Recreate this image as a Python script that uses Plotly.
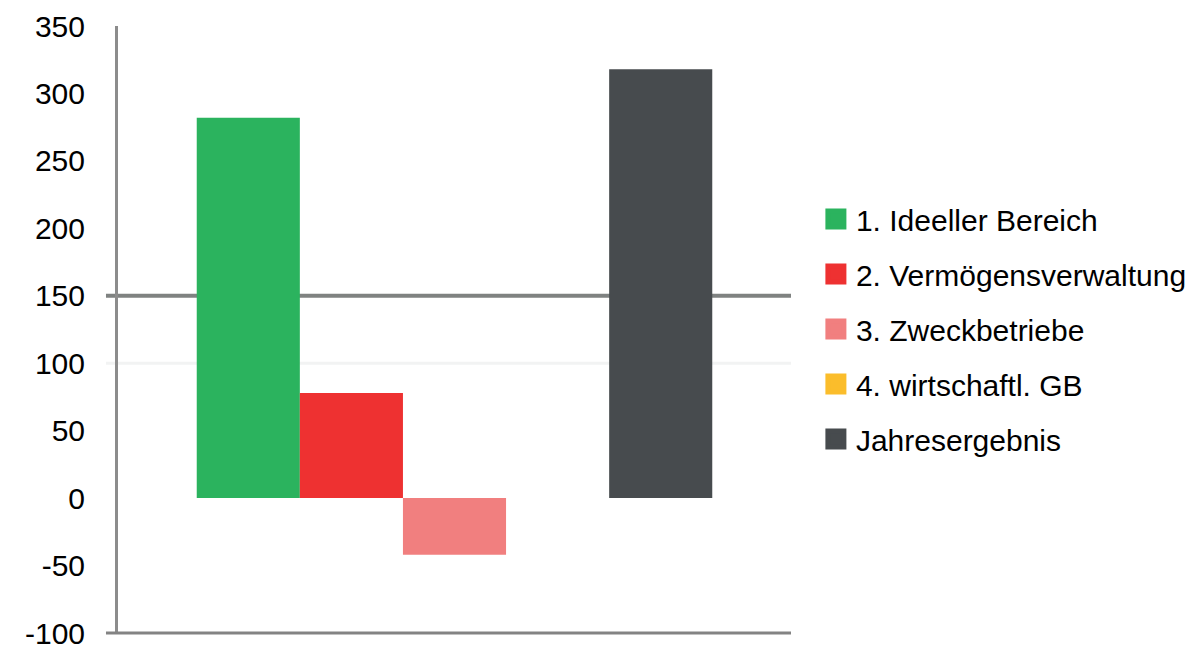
import plotly.graph_objects as go

series_names = ["1. Ideeller Bereich", "2. Vermögensverwaltung", "3. Zweckbetriebe",
                "4. wirtschaftl. GB", "Jahresergebnis"]
series_values = [282, 78, -42, 0, 318]
series_colors = ["#2bb35e", "#ee3131", "#f17f7f", "#fbbd2b", "#474b4e"]
category = [""]
tick_vals = [-100, -50, 0, 50, 100, 150, 200, 250, 300, 350]
tick_text = ["-100", "-50", "0", "50", "100", "150", "200", "250", "300", "350"]

FONT = "Liberation Sans, Arial, sans-serif"

fig = go.Figure()
for name, val, col in zip(series_names, series_values, series_colors):
    fig.add_trace(go.Bar(x=category, y=[val], name=name, marker=dict(color=col, line=dict(width=0)),
                         showlegend=False))
# legend swatches
for i, (name, col) in enumerate(zip(series_names, series_colors)):
    fig.add_trace(go.Scatter(x=[None], y=[None], mode="markers", name=name, legendgroup=f"g{i}",
                             marker=dict(symbol="square", size=16, color=col,
                                         line=dict(color=col, width=5))))

plot_w = 672
fig.update_layout(
    width=1198, height=648,
    margin=dict(l=118, r=407, t=26, b=15, autoexpand=False),
    paper_bgcolor="white", plot_bgcolor="white",
    barmode="group", bargap=0.234, bargroupgap=0,
    font=dict(family=FONT, size=30, color="#000000"),
    showlegend=True,
    legend=dict(x=1.037, xanchor="left", y=0.725, yanchor="top", font=dict(size=30),
                tracegroupgap=13, itemwidth=30, bgcolor="rgba(0,0,0,0)"),
    xaxis=dict(showline=False, showticklabels=False, showgrid=False, zeroline=False,
               automargin=False),
    yaxis=dict(range=[-100, 350], tickvals=tick_vals, ticktext=tick_text, showgrid=False,
               zeroline=False, showline=True, linecolor="#8c8c8c", linewidth=3,
               ticks="", ticklabelstandoff=24, ticklabeloverflow="allow", automargin=False,
               tickfont=dict(size=30, color="#000000")),
    shapes=[
        dict(type="line", xref="paper", yref="y", x0=-12 / plot_w, x1=1, y0=100, y1=100,
             line=dict(color="#f2f3f3", width=3), layer="below"),
        dict(type="line", xref="paper", yref="y", x0=-12 / plot_w, x1=1, y0=150, y1=150,
             line=dict(color="#7f8281", width=4), layer="below"),
        dict(type="line", xref="paper", yref="paper", x0=-12 / plot_w, x1=1, y0=0, y1=0,
             line=dict(color="#838383", width=3), layer="above"),
    ],
)

fig.write_html("out.html")
